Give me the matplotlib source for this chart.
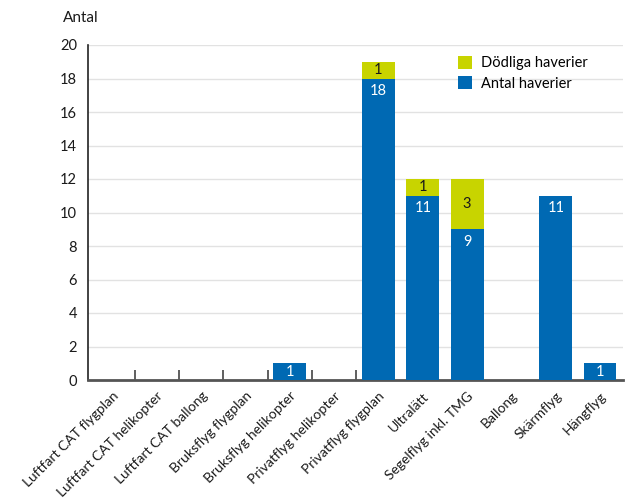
import matplotlib
matplotlib.use("Agg")
import matplotlib.pyplot as plt
import numpy as np

plt.rcParams['font.family'] = ['Lato', 'DejaVu Sans']

categories = [
    "Luftfart CAT flygplan", "Luftfart CAT helikopter", "Luftfart CAT ballong",
    "Bruksflyg flygplan", "Bruksflyg helikopter", "Privatflyg helikopter",
    "Privatflyg flygplan", "Ultralätt", "Segelflyg inkl. TMG", "Ballong",
    "Skärmflyg", "Hängflyg",
]
antal = [0, 0, 0, 0, 1, 0, 18, 11, 9, 0, 11, 1]
dodliga = [0, 0, 0, 0, 0, 0, 1, 1, 3, 0, 0, 0]
yticks = list(range(0, 21, 2))

BLUE = "#0069B3"
GREEN = "#C8D400"
TXT = "#1a1a1a"
FS = 10

fig = plt.figure(figsize=(6.25, 5), dpi=100)
ax = fig.add_axes([0.141, 0.24, 0.856, 0.67])

x = np.arange(len(categories))
width = 0.74
ax.bar(x, antal, width, color=BLUE, label="Antal haverier", zorder=3)
ax.bar(x, dodliga, width, bottom=antal, color=GREEN, label="Dödliga haverier", zorder=3)

for xi, a, d in zip(x, antal, dodliga):
    if a > 0:
        ya = a - 0.75 if a > 1.5 else a / 2
        ax.text(xi, ya, str(a), ha="center", va="center", color="white",
                fontsize=FS + 0.5, zorder=4)
    if d > 0:
        ax.text(xi, a + d / 2, str(d), ha="center", va="center", color=TXT,
                fontsize=FS + 0.5, zorder=4)

ax.set_xlim(-0.55, len(categories) - 0.48)
ax.set_ylim(0, 20)
ax.set_yticks(yticks)
ax.set_yticklabels([str(t) for t in yticks], fontsize=FS + 0.5, color=TXT)
ax.tick_params(axis="y", length=0, pad=8)
ax.yaxis.grid(True, color="#e2e2e2", linewidth=1, zorder=0)

ax.set_xticks(x)
ax.set_xticklabels(categories, rotation=45, ha="right", va="top",
                   rotation_mode="anchor", fontsize=FS, color=TXT)
ax.tick_params(axis="x", length=0, pad=7)
# short inward separators between the first categories
ax.set_xticks(np.arange(0.5, 6.0, 1.0), minor=True)
ax.tick_params(axis="x", which="minor", direction="in", length=7.5, width=1.2,
               color="#444444")

for s in ("top", "right"):
    ax.spines[s].set_visible(False)
ax.spines["left"].set_color("#222222")
ax.spines["left"].set_linewidth(1.2)
ax.spines["bottom"].set_color("#555555")
ax.spines["bottom"].set_linewidth(2)

fig.text(0.101, 0.963, "Antal", fontsize=11, color=TXT, ha="left", va="center")

handles, labels = ax.get_legend_handles_labels()
ax.legend(handles[::-1], labels[::-1], loc="upper left",
          bbox_to_anchor=(0.68, 0.985), frameon=False, fontsize=FS + 0.5,
          handlelength=1.0, handleheight=1.0, handletextpad=0.6,
          labelspacing=0.4, borderaxespad=0)

fig.savefig("out.png", dpi=100)
